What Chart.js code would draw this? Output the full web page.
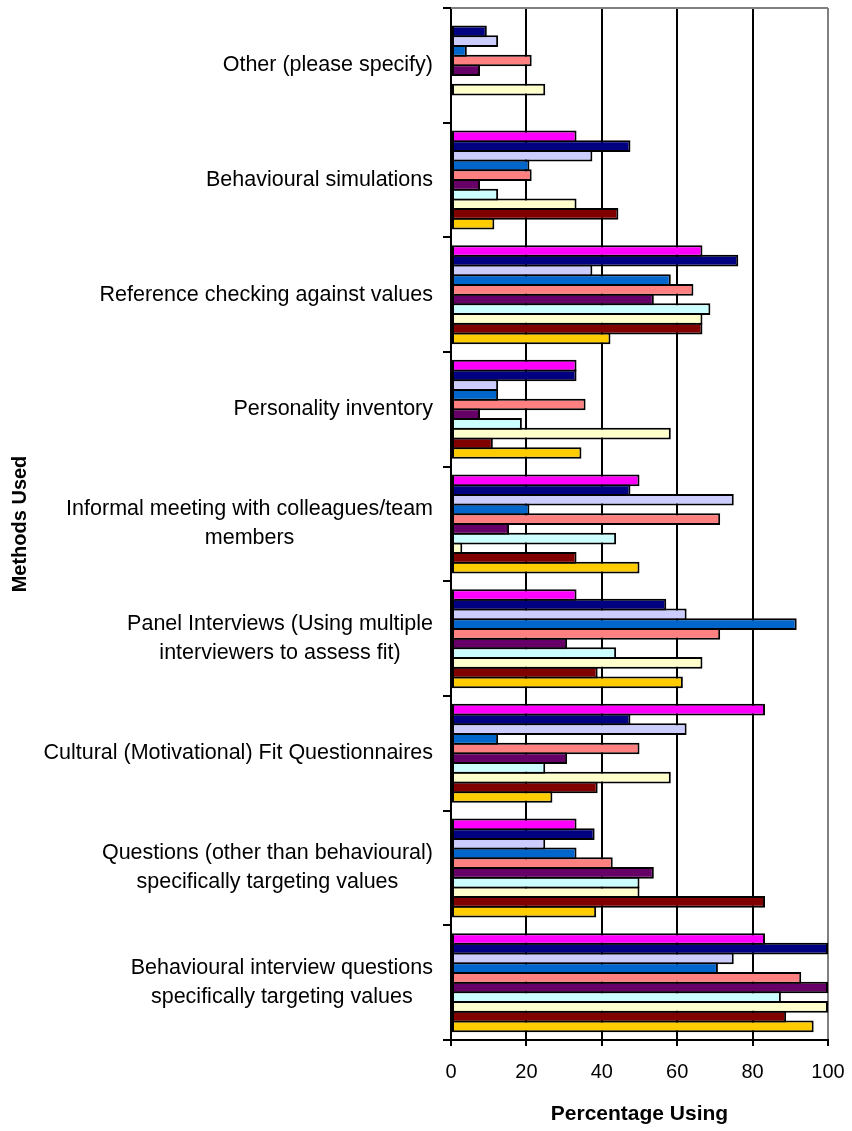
<!DOCTYPE html>
<html>
<head>
<meta charset="utf-8">
<title>Methods Used</title>
<script src="https://cdn.jsdelivr.net/npm/chart.js@4.4.1/dist/chart.umd.min.js"></script>
<style>
  body { margin: 0; background: #fff; }
</style>
</head>
<body>
<canvas id="chart" width="852" height="1131"></canvas>
<script>
// Categories, top to bottom (each entry = lines of the label)
const methods = [
    ["Other (please specify)"],
    ["Behavioural simulations"],
    ["Reference checking against values"],
    ["Personality inventory"],
    ["Informal meeting with colleagues/team", "members"],
    ["Panel Interviews (Using multiple", "interviewers to assess fit)"],
    ["Cultural (Motivational) Fit Questionnaires"],
    ["Questions (other than behavioural)", "specifically targeting values"],
    ["Behavioural interview questions", "specifically targeting values"]
];

// Series values (% using), same order as methods
const magentaVals  = [0,    33.3, 66.7, 33.3, 50.0, 33.3, 83.3, 33.3, 83.3];
const navyVals     = [9.5,  47.6, 76.2, 33.3, 47.6, 57.1, 47.6, 38.1, 100];
const lavenderVals = [12.5, 37.5, 37.5, 12.5, 75.0, 62.5, 62.5, 25.0, 75.0];
const blueVals     = [4.2,  20.8, 58.3, 12.5, 20.8, 91.7, 12.5, 33.3, 70.8];
const salmonVals   = [21.4, 21.4, 64.3, 35.7, 71.4, 71.4, 50.0, 42.9, 92.9];
const purpleVals   = [7.7,  7.7,  53.8, 7.7,  15.4, 30.8, 30.8, 53.8, 100];
const cyanVals     = [0,    12.5, 68.8, 18.8, 43.8, 43.8, 25.0, 50.0, 87.5];
const yellowVals   = [25.0, 33.3, 66.7, 58.3, 3.0,  66.7, 58.3, 50.0, 100];
const darkRedVals  = [0,    44.4, 66.7, 11.1, 33.3, 38.9, 38.9, 83.3, 88.9];
const goldVals     = [0,    11.5, 42.3, 34.6, 50.0, 61.5, 26.9, 38.5, 96.2];

const seriesValues = [magentaVals, navyVals, lavenderVals, blueVals, salmonVals,
                      purpleVals, cyanVals, yellowVals, darkRedVals, goldVals];
const seriesColors = ["#FF00FF", "#000080", "#CCCCFF", "#0066CC", "#FF8080",
                      "#660066", "#CCFFFF", "#FFFFCC", "#800000", "#FFCC00"];

const FONT = '"Liberation Sans", Arial, sans-serif';
const labelSize = 21.5;
const labelLineHeight = 29;

Chart.defaults.font.family = FONT;
Chart.defaults.color = "#000";

// draws the category labels: block right-aligned, lines centred inside the block
const methodLabels = {
    id: "methodLabels",
    afterDraw(chart) {
        const y = chart.scales.y;
        const ctx = chart.ctx;
        ctx.save();
        ctx.font = `${labelSize}px ${FONT}`;
        ctx.fillStyle = "#000";
        ctx.textAlign = "center";
        ctx.textBaseline = "middle";
        const right = y.right - 18;
        methods.forEach((lines, i) => {
            const cy = y.getPixelForTick(i);
            const w = Math.max(...lines.map(l => ctx.measureText(l).width));
            lines.forEach((line, j) => {
                ctx.fillText(line, right - w / 2, cy + (j - (lines.length - 1) / 2) * labelLineHeight);
            });
        });
        ctx.restore();
    }
};

// grey frame line along the top of the plot
const plotFrame = {
    id: "plotFrame",
    beforeDatasetsDraw(chart) {
        const a = chart.chartArea;
        const ctx = chart.ctx;
        ctx.save();
        ctx.strokeStyle = "#808080";
        ctx.lineWidth = 2;
        ctx.beginPath();
        ctx.moveTo(a.left, a.top);
        ctx.lineTo(a.right, a.top);
        ctx.stroke();
        ctx.restore();
    }
};

new Chart(document.getElementById("chart"), {
    type: "bar",
    data: {
        labels: methods.map(l => l.join(" ")),
        datasets: seriesValues.map((vals, i) => ({
            data: vals,
            backgroundColor: seriesColors[i],
            borderColor: "#000",
            borderWidth: 2,
            borderSkipped: false,
            barPercentage: 1.206,   // neighbouring bars share their outline
            categoryPercentage: 0.846
        }))
    },
    options: {
        indexAxis: "y",
        responsive: false,
        animation: false,
        layout: { padding: { left: 0, right: 24, top: 8, bottom: 0 } },
        plugins: {
            legend: { display: false },
            tooltip: { enabled: false }
        },
        scales: {
            x: {
                min: 0,
                max: 100,
                ticks: { stepSize: 20, font: { size: 20 }, color: "#000", padding: 14 },
                grid: {
                    color: c => (c.tick && c.tick.value === 100 ? "#808080" : "#000"),
                    lineWidth: 2,
                    tickLength: 6,
                    tickColor: "#000"
                },
                border: { color: "#000", width: 2 },
                title: {
                    display: true,
                    text: "Percentage Using",
                    font: { size: 21, weight: "bold" },
                    color: "#000",
                    padding: { top: 0, bottom: 4 }
                },
                afterFit(scale) {
                    scale.height = 91;
                    scale.paddingLeft = 0;
                    scale.paddingRight = 0;
                }
            },
            y: {
                offset: true,
                grid: {
                    offset: true,
                    drawOnChartArea: false,
                    tickLength: 8,
                    color: "#000",
                    lineWidth: 2
                },
                border: { color: "#000", width: 2 },
                ticks: { display: false },
                title: {
                    display: true,
                    text: "Methods Used",
                    font: { size: 20, weight: "bold" },
                    color: "#000",
                    padding: { top: 8, bottom: 0 }
                },
                afterFit(scale) { scale.width = 451; }
            }
        }
    },
    plugins: [plotFrame, methodLabels]
});
</script>
</body>
</html>
